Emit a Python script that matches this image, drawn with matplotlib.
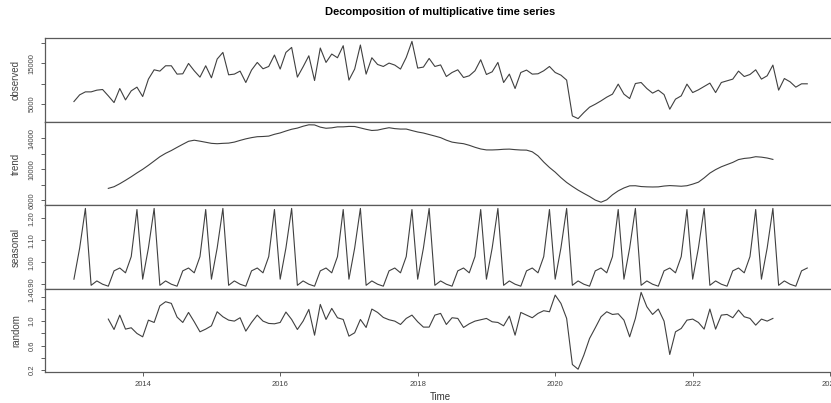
import matplotlib
matplotlib.use('Agg')
import matplotlib.pyplot as plt
import numpy as np

plt.rcParams['font.family'] = ['Liberation Sans', 'DejaVu Sans']

# monthly series, Jan 2013 .. Sep 2023
START_YEAR = 2013

observed = [
    5570, 7220, 7950, 7950, 8370, 8530, 6970, 5320, 8770, 5980, 8200, 9110,
    6800, 11080, 13370, 13050, 14360, 14360, 12310, 12390, 14930, 13130, 11570, 14360,
    11400, 16010, 17640, 12140, 12310, 13050, 10250, 13300, 15180, 13620, 14190, 17000,
    13550, 17640, 18870, 11570, 14110, 16820, 10740, 18720, 15180, 17240, 16330, 19290,
    10840, 13550, 19460, 12310, 16330, 14680, 14190, 15020, 14530, 13550, 16400, 20350,
    13790, 14040, 16160, 14190, 14570, 11720, 12710, 13370, 11480, 11900, 13130, 15840,
    12220, 12880, 15180, 10250, 12310, 8770, 12710, 13300, 12310, 12390, 13130, 14190,
    12710, 12060, 10840, 2040, 1380, 2860, 4190, 4920, 5740, 6650, 7390, 9850,
    7390, 6310, 10000, 10250, 8770, 7640, 8370, 7290, 3690, 6160, 6970, 9850,
    7780, 8450, 9260, 10100, 7780, 10250, 10660, 11080, 13050, 11720, 12220, 13370,
    11080, 11900, 14530, 8370, 11230, 10420, 9110, 9930, 9930,
]

# trend, Jul 2013 .. Mar 2023
trend = [
    7546, 7758, 8145, 8583, 9045, 9538,
    10003, 10520, 11072, 11626, 12065, 12424, 12834, 13231, 13615, 13755, 13631, 13491,
    13351, 13303, 13351, 13382, 13512, 13731, 13930, 14088, 14207, 14235, 14286, 14518,
    14695, 14942, 15168, 15318, 15558, 15743, 15725, 15442, 15296, 15352, 15475, 15478,
    15533, 15523, 15341, 15160, 15010, 15057, 15224, 15367, 15250, 15191, 15196, 14999,
    14814, 14684, 14488, 14292, 14087, 13763, 13510, 13396, 13307, 13102, 12843, 12626,
    12503, 12500, 12532, 12587, 12608, 12539, 12490, 12477, 12262, 11739, 10941, 10240,
    9638, 8934, 8311, 7798, 7320, 6900, 6498, 6036, 5762, 6069, 6719, 7226,
    7599, 7872, 7885, 7780, 7742, 7724, 7740, 7846, 7904, 7867, 7820, 7887,
    8092, 8345, 8893, 9515, 9965, 10330, 10615, 10896, 11259, 11406, 11478, 11629,
    11572, 11459, 11281,
]

# seasonal figure, Jan .. Dec
seasonal_pattern = [0.923, 1.065, 1.246, 0.895, 0.915, 0.900,
                    0.891, 0.961, 0.974, 0.952, 1.026, 1.241]

# remainder, Jul 2013 .. Mar 2023
random_part = [
    1.033, 0.863, 1.098, 0.869, 0.891, 0.798,
    0.743, 1.016, 0.978, 1.250, 1.317, 1.290, 1.066, 0.978, 1.142, 0.989, 0.825, 0.869,
    0.923, 1.153, 1.071, 1.016, 1.000, 1.055, 0.836, 0.978, 1.098, 1.000, 0.962, 0.956,
    0.978, 1.148, 1.027, 0.863, 1.000, 1.191, 0.770, 1.273, 1.027, 1.208, 1.055, 1.027,
    0.754, 0.809, 1.027, 0.896, 1.197, 1.142, 1.060, 1.022, 1.000, 0.945, 1.044, 1.098,
    0.989, 0.902, 0.902, 1.098, 1.126, 0.945, 1.055, 1.044, 0.896, 0.956, 1.000, 1.022,
    1.044, 0.989, 0.978, 0.923, 1.082, 0.770, 1.142, 1.098, 1.055, 1.126, 1.170, 1.153,
    1.426, 1.290, 1.044, 0.290, 0.213, 0.443, 0.716, 0.891, 1.071, 1.153, 1.109, 1.120,
    1.016, 0.743, 1.044, 1.470, 1.235, 1.109, 1.197, 1.000, 0.454, 0.825, 0.880, 1.016,
    1.033, 0.978, 0.869, 1.197, 0.869, 1.098, 1.109, 1.055, 1.180, 1.071, 1.044, 0.934,
    1.033, 1.000, 1.044,
]

n = len(observed)
t = START_YEAR + np.arange(n) / 12.0
seasonal = np.tile(seasonal_pattern, n // 12 + 1)[:n]
t_trend = t[6:6 + len(trend)]
t_random = t[6:6 + len(random_part)]

W, H = 831, 403
fig = plt.figure(figsize=(W / 100, H / 100), dpi=100)

LINE = '#404040'
FRAME = '#5a5a5a'
x_left, x_right = 44.6, 836.6
tops = [38.3, 121.7, 205.3, 289.3, 372.3]

panels = [
    ('observed', t, observed, [5000, 10000, 15000, 20000], ['5000', '', '15000', '']),
    ('trend', t_trend, trend, [6000, 8000, 10000, 12000, 14000], ['6000', '', '10000', '', '14000']),
    ('seasonal', t, seasonal, [0.9, 1.0, 1.1, 1.2], ['0.90', '1.00', '1.10', '1.20']),
    ('random', t_random, random_part, [0.2, 0.4, 0.6, 0.8, 1.0, 1.2, 1.4],
     ['0.2', '', '0.6', '', '1.0', '', '1.4']),
]

# R pads the x range by 4%
span = t[-1] - t[0]
xlim = (t[0] - 0.04 * span, t[-1] + 0.04 * span)

axes = []
for i, (name, xs, ys, yt, yl) in enumerate(panels):
    top, bot = tops[i], tops[i + 1]
    ax = fig.add_axes([x_left / W, 1 - bot / H, (x_right - x_left) / W, (bot - top) / H])
    ax.plot(xs, ys, color=LINE, lw=0.8)
    lo, hi = np.min(ys), np.max(ys)
    pad = 0.04 * (hi - lo)
    ax.set_ylim(lo - pad, hi + pad)
    ax.set_xlim(*xlim)
    ax.set_yticks(yt)
    ax.set_yticklabels(yl)
    ax.tick_params(axis='y', direction='out', length=2.7, width=0.6, pad=3.6,
                   labelsize=5.5, labelrotation=90, colors='#444444')
    for lab in ax.get_yticklabels():
        lab.set_va('center')
    for s in ax.spines.values():
        s.set_color(FRAME)
        s.set_linewidth(0.9)
    fig.text(16 / W, 1 - (top + bot) / 2 / H, name, rotation=90,
             ha='center', va='center', fontsize=7, color='#444444')
    axes.append(ax)

for ax in axes[:-1]:
    ax.set_xticks([])

bottom = axes[-1]
bottom.set_xticks([2014, 2016, 2018, 2020, 2022, 2024])
bottom.tick_params(axis='x', direction='out', length=3, width=0.6, pad=3.5,
                   labelsize=5.5, colors='#444444')

xmid = (x_left + x_right) / 2 / W
fig.text(xmid, 1 - 12 / H, 'Decomposition of multiplicative time series',
         ha='center', va='center', fontsize=8, fontweight='bold')
fig.text(xmid, 1 - 397 / H, 'Time', ha='center', va='center', fontsize=7, color='#333333')

fig.savefig('out.png', dpi=100)
